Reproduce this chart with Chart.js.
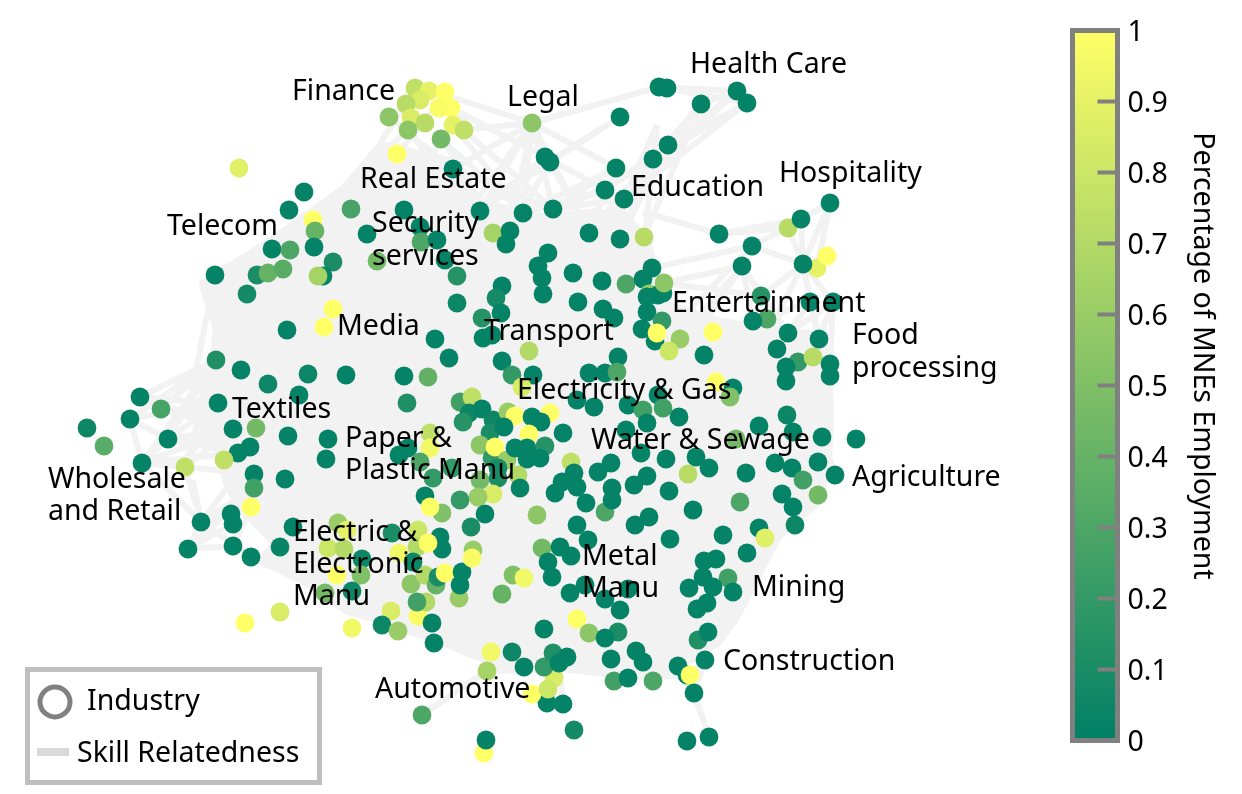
<!DOCTYPE html>
<html>
<head>
<meta charset="utf-8">
<title>Skill relatedness network</title>
<script src="https://cdn.jsdelivr.net/npm/chart.js@4"></script>
<style>
  html, body { margin: 0; padding: 0; background: #fff; overflow: hidden; }
  #wrap { position: relative; width: 1242px; height: 794px; }
  #net { position: absolute; left: 0; top: 0; }
  #bar { position: absolute; left: 1060px; top: 0; }
</style>
</head>
<body>
<div id="wrap">
  <canvas id="net" width="1242" height="794"></canvas>
  <canvas id="bar" width="182" height="794"></canvas>
</div>
<script>
// industries, in picture coordinates
const nodeX = [
  415,429,445,420,406,451,439,411,425,389,408,453,441,464,397,
  239,304,289,351,404,313,315,367,420,421,437,445,377,314,272,290,333,215,257,268,283,323,318,247,457,457,333,324,287,435,449,216,241,308,346,404,428,268,299,140,218,407,
  161,130,87,104,168,142,185,256,233,250,238,224,288,328,326,254,285,254,251,231,233,201,188,233,251,280,293,
  338,347,328,344,362,392,399,337,361,325,352,280,245,352,391,382,398,418,432,434,426,417,411,425,436,438,445,418,417,440,442,428,413,459,462,460,
  460,472,469,482,463,493,508,515,490,504,550,532,541,529,563,430,430,408,399,420,433,452,480,492,495,507,515,527,545,527,540,498,480,518,498,520,493,478,460,425,442,430,485,471,537,473,472,513,524,502,
  571,574,562,555,577,586,598,611,605,612,612,634,647,641,666,696,709,688,669,746,693,740,649,635,670,723,759,765,747,704,716,728,703,713,733,689,707,697,698,708,
  787,759,793,736,822,856,775,792,818,835,803,818,782,793,795,
  542,560,571,588,548,552,570,577,585,605,628,620,544,577,589,618,605,
  491,512,487,524,547,563,532,554,548,544,553,567,559,574,422,484,486,611,636,643,614,628,653,678,687,690,694,705,709,687,
  532,620,659,667,701,737,747,668,653,545,550,616,605,624,453,480,523,553,830,788,801,719,644,620,589,493,510,506,752,742,817,827,803,
  548,538,573,542,543,602,626,652,643,649,647,658,663,664,502,496,578,603,614,482,501,483,492,647,662,642,655,657,713,680,669,529,502,704,618,512,533,589,605,617,761,767,753,810,833,788,819,777,798,813,786,786,830,830,716,733,730,522,658,
  577,594,628,643,663,647,679,626
];
const nodeY = [
  88,91,92,100,104,108,108,118,123,117,130,125,139,130,154,
  168,192,210,209,210,220,231,234,227,242,240,260,261,247,249,250,262,275,275,273,269,276,276,294,276,303,309,327,330,339,358,360,370,374,375,376,377,384,395,397,403,403,
  409,419,428,446,439,463,467,428,429,447,453,460,436,439,459,474,479,488,507,514,524,522,549,546,557,547,527,
  523,530,548,549,559,533,553,575,575,593,591,612,623,628,611,625,631,616,623,643,602,602,584,575,585,577,573,530,547,537,549,543,562,598,572,585,
  402,397,413,409,422,420,412,416,433,427,413,417,422,434,433,433,448,448,455,462,478,468,445,458,447,460,448,448,446,459,458,468,480,475,478,488,494,497,500,496,513,507,514,527,515,550,558,575,578,594,
  462,473,482,493,487,503,472,463,512,500,488,485,476,453,459,457,468,474,491,473,510,502,517,525,539,535,528,538,553,561,559,578,577,587,592,588,603,609,640,632,
  415,426,432,439,437,439,463,468,462,475,480,495,494,507,525,
  548,547,556,540,562,577,593,525,585,599,589,610,629,619,633,632,638,
  652,652,671,667,703,704,694,678,689,667,653,657,663,730,715,753,740,659,651,662,681,678,681,666,675,675,693,660,737,741,
  123,117,87,88,104,91,103,145,159,157,162,168,190,199,169,211,213,209,203,228,219,234,237,239,233,233,231,244,246,266,268,256,264,
  253,266,273,278,294,281,284,268,279,294,297,295,293,283,286,298,302,309,318,318,313,338,335,312,321,329,341,333,332,339,351,351,361,355,357,375,375,373,373,372,296,319,321,302,302,333,339,349,362,357,367,381,364,376,382,388,397,387,395,
  400,407,405,410,408,423,417,430
];
const nodeShare = [
  .75,.9,1,.85,.72,1,.98,.85,.72,.55,.55,.9,.45,.75,1,
  .88,.02,.02,.28,.02,1,.4,.02,.02,.3,.02,.02,.45,.02,.02,.3,.1,.02,.1,.4,.35,.02,.65,.08,.15,.05,1,1,.02,.02,.02,.12,.02,.05,.02,.02,.38,.05,.02,.02,.02,.12,
  .28,.02,.05,.35,.02,.02,.75,.45,.02,.02,.02,.75,.02,.02,.02,.02,.02,.25,1,.02,.02,.02,.02,.02,.02,.03,.02,
  .6,.9,.8,.7,.05,.1,.95,1,.5,.45,.05,.85,1,.95,.85,.05,.6,.98,.02,.02,.7,.25,.55,.7,.4,.1,1,.8,.7,.02,.02,1,.05,.6,.02,.02,
  .25,.75,.05,.02,.15,.05,.6,1,.1,.02,1,.02,.02,1,.02,.75,.95,.02,.02,.3,.2,.2,.55,.2,1,.6,.02,.02,.15,.02,.02,.1,.45,.7,.1,.02,.85,.6,.2,.02,.5,1,.02,.1,.55,.6,.98,.5,.95,.4,
  .75,.02,.02,.02,.02,.02,.02,.02,.3,.02,.02,.02,.02,.02,.02,.02,.02,.72,.02,.02,.02,.3,.02,.02,.02,.02,.02,.88,.02,.02,.02,.25,.02,.02,.02,.02,.02,.02,.12,.02,
  .05,.02,.02,.45,.02,.02,.02,.02,.02,.02,.25,.45,.02,.02,.05,
  .45,.02,.02,.02,.02,.02,.02,.02,.02,.02,.02,.02,.02,1,.55,.1,.02,
  .95,.05,.65,.02,.02,.02,1,.85,.8,.2,.12,.02,.02,.08,.3,1,.02,.02,.02,.02,.25,.02,.3,.02,.02,1,.02,.02,.02,.02,
  .55,.02,.02,.02,.02,.02,.02,.02,.02,.02,.02,.02,.02,.02,.02,.02,.02,.02,.02,.72,.02,.02,.72,.02,.02,.65,.02,.02,.02,.02,.9,1,.02,
  .02,.02,.02,.02,.02,.02,.3,.02,.02,.6,.02,.02,.02,.55,.02,.08,.02,.02,.02,.15,.02,.02,.02,.02,.2,.02,.02,1,1,.6,.8,.7,.02,.02,.02,.2,.02,.02,.02,.3,.15,.3,.02,.02,.02,.02,.02,.02,.2,.72,.02,.02,.02,.02,1,.02,.5,.85,.02,
  .02,.02,.02,.25,.25,.02,.02,.02
];

// the dense part of the skill web, traced round its edge
const webX = [200,273,343,380,455,480,540,600,650,660,720,830,832,830,820,803,780,737,720,695,660,573,507,473,440,373,347,300,260,273,243,227,213,193,210,215,200];
const webY = [283,237,187,143,160,200,215,210,240,300,320,335,420,460,503,517,537,620,643,660,673,667,670,657,643,620,613,580,560,543,513,490,440,420,370,330,283];

// single links that stand out from the web, null starts a new link
const linkX = [
  532,659,null,532,453,null,532,445,null,532,460,null,532,545,null,532,616,null,532,510,null,532,470,null,620,470,null,
  659,737,null,667,747,null,701,737,null,701,653,null,701,668,null,747,668,null,737,668,null,747,653,null,737,653,null,653,624,null,668,624,null,657,640,null,657,610,null,
  643,719,null,719,801,null,719,788,null,752,788,null,752,652,null,742,664,null,752,803,null,742,700,null,742,761,null,742,788,null,803,830,null,801,830,null,803,801,null,803,788,null,817,830,null,803,810,null,803,833,null,803,761,null,803,770,null,810,819,null,833,819,null,819,830,null,810,753,null,742,753,null,810,788,null,833,788,null,803,819,null,
  389,453,null,397,445,null,408,470,null,441,470,null,380,408,null,464,553,null,453,523,null,451,545,null,445,470,null,
  545,623,null,532,553,null,553,616,null,523,616,null,480,545,null,550,589,null,616,589,null,653,589,null,605,644,null,624,620,null,
  397,480,null,397,404,null,404,453,null,343,408,null,380,453,null,441,523,null,441,404,null,453,553,null,480,550,null,532,589,null,532,480,null,532,523,null,620,550,null,616,553,null,605,553,null,605,523,null,624,589,null,624,553,null,550,510,null,653,620,null,668,620,null,668,605,null,653,605,null,668,589,null,701,644,null,737,624,null,747,624,null,664,644,null,620,652,null,644,652,null,
  742,680,null,752,680,null,664,761,null,810,767,null,761,788,null,833,830,null,819,788,null,
  215,190,null,215,220,null,215,216,null,215,241,null,257,216,null,140,218,null,140,233,null,161,233,null,130,168,null,168,218,null,168,233,null,168,250,null,168,238,null,142,168,null,142,233,null,142,185,null,130,142,null,185,233,null,142,238,null,185,254,null,168,216,null,130,216,null,161,216,null,140,216,null,201,231,null,201,188,null,188,233,null,188,233,null,233,293,null,251,320,null,201,193,null,201,233,null,
  130,218,null,142,216,null,185,216,null,185,218,null,188,254,null,201,254,null,201,251,null,233,251,null,142,201,null,185,201,null,
  422,487,null,487,491,null,487,512,null,487,560,null,544,614,null,614,678,null,653,678,null,628,690,null,694,709,null,694,705,null,690,705,null,554,544,null,548,560,null,547,554,null,563,559,null,512,480,null,822,835
];
const linkY = [
  123,87,null,123,169,null,123,95,null,123,130,null,123,157,null,123,168,null,123,231,null,123,210,null,117,210,null,
  87,91,null,88,103,null,104,91,null,104,159,null,104,145,null,103,145,null,91,145,null,103,159,null,91,159,null,159,199,null,145,199,null,125,280,null,125,230,null,
  212,234,null,234,219,null,234,228,null,246,228,null,246,268,null,266,283,null,246,264,null,266,330,null,266,296,null,266,333,null,264,203,null,219,203,null,264,219,null,264,228,null,268,203,null,264,302,null,264,302,null,264,296,null,264,330,null,302,339,null,302,339,null,339,364,null,302,321,null,266,321,null,302,333,null,302,333,null,264,339,null,
  117,169,null,154,95,null,130,210,null,139,180,null,143,100,null,130,209,null,125,213,null,108,157,null,92,130,null,
  157,199,null,123,209,null,209,168,null,213,168,null,211,157,null,162,233,null,168,233,null,159,233,null,190,237,null,199,239,null,
  154,211,null,154,210,null,210,169,null,187,130,null,143,169,null,139,213,null,139,210,null,169,209,null,211,162,null,123,233,null,123,211,null,123,213,null,117,162,null,168,209,null,190,209,null,190,213,null,199,233,null,199,209,null,162,231,null,159,239,null,145,239,null,145,190,null,159,190,null,145,233,null,104,237,null,91,199,null,103,199,null,283,237,null,239,268,null,237,268,null,
  266,339,null,246,320,null,283,296,null,302,319,null,296,333,null,302,364,null,339,333,null,
  275,400,null,275,403,null,275,360,null,275,370,null,275,360,null,397,403,null,397,429,null,409,429,null,419,439,null,439,403,null,439,429,null,439,447,null,439,453,null,463,439,null,463,429,null,463,467,null,419,463,null,467,429,null,463,453,null,467,474,null,439,360,null,419,360,null,409,360,null,397,360,null,522,514,null,522,549,null,549,546,null,549,524,null,546,570,null,557,590,null,522,480,null,522,480,null,
  419,403,null,463,360,null,467,360,null,467,403,null,549,488,null,522,488,null,522,557,null,546,507,null,463,522,null,467,522,null,
  715,671,null,671,652,null,671,652,null,671,670,null,667,675,null,681,666,null,681,666,null,678,675,null,693,737,null,693,660,null,675,660,null,678,640,null,689,660,null,703,678,null,704,663,null,652,640,null,437,475
];

// labels and colour bar ticks
const industryLabels = ['Finance','Legal','Health Care','Real Estate','Education','Hospitality','Telecom','Security','services','Entertainment','Media','Transport','Food','processing','Electricity & Gas','Textiles','Paper &','Plastic Manu','Water & Sewage','Agriculture','Wholesale','and Retail','Electric &','Electronic','Manu','Metal','Manu','Mining','Construction','Automotive'];
const labelX = [292,507,690,360,631,779,167,372,372,672,337,484,852,852,517,232,345,345,591,852,48,48,293,293,293,582,582,752,723,375];
const labelY = [92,98,65,180,188,174,227,224,257,304,327,332,336,369,391,410,439,471,441,478,480,512,533,565,597,557,589,588,662,690];
const barTicks = [0,.1,.2,.3,.4,.5,.6,.7,.8,.9,1];

const FONT = '28.5px "Noto Sans"';

// same as matlab summer
function shareColor(v) {
  return `rgb(${Math.round(255 * v)},${Math.round(128 + 127 * v)},102)`;
}

const netAnnotations = {
  id: 'netAnnotations',
  afterDraw(chart) {
    const { ctx, scales: { x, y } } = chart;
    ctx.save();
    ctx.fillStyle = '#000';
    ctx.font = FONT;
    ctx.textBaseline = 'middle';
    industryLabels.forEach((t, i) => {
      ctx.fillText(t, x.getPixelForValue(labelX[i]), y.getPixelForValue(labelY[i]));
    });

    // legend box
    ctx.lineWidth = 5;
    ctx.strokeStyle = '#bfbfbf';
    ctx.strokeRect(27.5, 669.5, 292, 113);
    ctx.strokeStyle = '#808080';
    ctx.beginPath();
    ctx.arc(55, 702, 15, 0, Math.PI * 2);
    ctx.stroke();
    ctx.fillStyle = '#d9d9d9';
    ctx.fillRect(37, 748, 32, 8);
    ctx.fillStyle = '#000';
    ctx.fillText('Industry', 87, 702);
    ctx.fillText('Skill Relatedness', 77, 754);
    ctx.restore();
  }
};

new Chart(document.getElementById('net'), {
  type: 'scatter',
  plugins: [netAnnotations],
  data: {
    datasets: [
      {
        data: webX.map((x, i) => ({ x, y: webY[i] })),
        showLine: true, fill: 'shape', backgroundColor: '#f2f2f2', borderColor: '#f2f2f2',
        borderWidth: 4, pointRadius: 0, order: 3
      },
      {
        data: linkX.map((x, i) => ({ x, y: linkY[i] })),
        showLine: true, spanGaps: false, borderColor: '#f2f2f2', borderWidth: 6, pointRadius: 0, order: 2
      },
      {
        data: nodeX.map((x, i) => ({ x, y: nodeY[i] })),
        pointRadius: 9.4, borderWidth: 0, pointBorderWidth: 0,
        pointBackgroundColor: nodeShare.map(shareColor), order: 1
      }
    ]
  },
  options: {
    responsive: false,
    animation: false,
    devicePixelRatio: 1,
    layout: { padding: 0, autoPadding: false },
    plugins: { legend: { display: false }, tooltip: { enabled: false } },
    scales: {
      x: { display: false, type: 'linear', min: 0, max: 1242 },
      y: { display: false, type: 'linear', min: 0, max: 794, reverse: true }
    }
  }
});

// colour bar
const barFrame = {
  id: 'barFrame',
  afterDraw(chart) {
    const { ctx, chartArea: a, scales: { y } } = chart;
    ctx.save();
    ctx.strokeStyle = '#808080';
    ctx.lineWidth = 4;
    barTicks.slice(1, -1).forEach(t => {
      ctx.beginPath();
      ctx.moveTo(a.right - 20, y.getPixelForValue(t));
      ctx.lineTo(a.right, y.getPixelForValue(t));
      ctx.stroke();
    });
    ctx.lineWidth = 5;
    ctx.strokeRect(a.left, a.top, a.right - a.left, a.bottom - a.top);
    ctx.fillStyle = '#000';
    ctx.font = FONT;
    ctx.textBaseline = 'middle';
    barTicks.forEach(t => {
      ctx.fillText(String(t), a.right + 10, y.getPixelForValue(t) + 2);
    });
    ctx.translate(142, 356);
    ctx.rotate(Math.PI / 2);
    ctx.textAlign = 'center';
    ctx.fillText('Percentage of MNEs Employment', 0, 0);
    ctx.restore();
  }
};

new Chart(document.getElementById('bar'), {
  type: 'bar',
  plugins: [barFrame],
  data: {
    labels: ['share'],
    datasets: [{
      data: [1],
      barPercentage: 1,
      categoryPercentage: 1,
      backgroundColor(c) {
        const a = c.chart.chartArea;
        if (!a) return shareColor(0);
        const g = c.chart.ctx.createLinearGradient(0, a.bottom, 0, a.top);
        g.addColorStop(0, shareColor(0));
        g.addColorStop(1, shareColor(1));
        return g;
      }
    }]
  },
  options: {
    responsive: false,
    animation: false,
    devicePixelRatio: 1,
    layout: { padding: { left: 12.5, top: 30.5, bottom: 53.5, right: 0 }, autoPadding: false },
    plugins: { legend: { display: false }, tooltip: { enabled: false } },
    scales: {
      x: { display: false },
      y: {
        position: 'right',
        min: 0,
        max: 1,
        afterBuildTicks(s) { s.ticks = barTicks.map(value => ({ value })); },
        afterFit(s) { s.width = 124.5; },
        grid: { display: false, drawTicks: false },
        border: { display: false },
        ticks: { display: false }
      }
    }
  }
});
</script>
</body>
</html>
